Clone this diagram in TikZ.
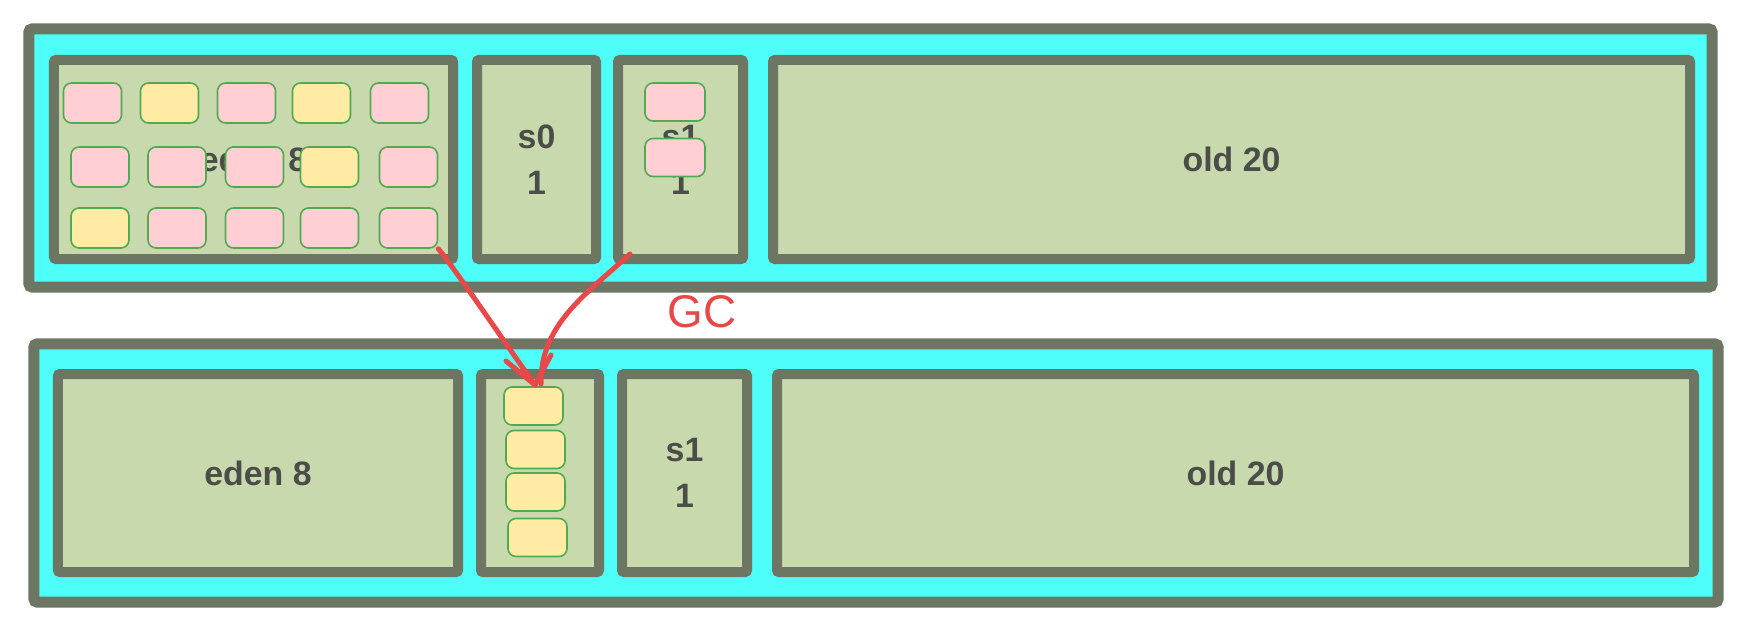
\documentclass[tikz,border=0pt]{standalone}
\usepackage{fontspec}
\setmainfont{Liberation Sans}
\definecolor{frame}{RGB}{108,118,98}
\definecolor{cyanbg}{RGB}{77,255,248}
\definecolor{olive}{RGB}{201,217,174}
\definecolor{pinkc}{RGB}{255,207,212}
\definecolor{yellowc}{RGB}{255,235,163}
\definecolor{greenb}{RGB}{80,170,80}
\definecolor{gcred}{RGB}{232,72,72}
\definecolor{txt}{RGB}{75,78,72}
\tikzset{
  outer/.style={draw=frame, fill=cyanbg, line width=11bp, rounded corners=3bp, inner sep=0pt},
  region/.style={draw=frame, fill=olive, line width=10bp, rounded corners=2bp, inner sep=0pt},
  obj/.style={draw=greenb, line width=1.6bp, rounded corners=8bp, minimum width=58bp, minimum height=40bp, inner sep=0pt},
  pinkobj/.style={obj, fill=pinkc},
  yelobj/.style={obj, fill=yellowc},
  lbl/.style={font=\bfseries\fontsize{34}{46}\selectfont, text=txt, align=center},
  gcline/.style={draw=gcred, line width=5bp, line cap=round, line join=round},
}
\begin{document}
\begin{tikzpicture}[x=1bp, y=-1bp]
\useasboundingbox (0,0) rectangle (1762,630);
\fill[white] (0,0) rectangle (1762,630);

% ---------- top heap ----------
\node[outer, minimum width=1683bp, minimum height=258bp] (heapT) at (870.5,158) {};
\node[region, minimum width=399bp, minimum height=199bp] (edenT) at (253.5,159.5) {};
\node[region, minimum width=119bp, minimum height=199bp] (s0T) at (536.5,159.5) {};
\node[region, minimum width=125bp, minimum height=199bp] (s1T) at (680.5,159.5) {};
\node[region, minimum width=917bp, minimum height=199bp] (oldT) at (1231.5,159.5) {};

\node[lbl] (edenTl) at (edenT.center) {eden 8};
\node[lbl] (s0Tl) at (s0T.center) {s0\\1};
\node[lbl] (s1Tl) at (s1T.center) {s1\\1};
\node[lbl] (oldTl) at (oldT.center) {old 20};

% objects in eden (top)
\node[pinkobj] (e11) at (92.5,103) {};
\node[yelobj]  (e12) at (169.5,103) {};
\node[pinkobj] (e13) at (246.5,103) {};
\node[yelobj]  (e14) at (321.5,103) {};
\node[pinkobj] (e15) at (399.5,103) {};
\node[pinkobj] (e21) at (100,167) {};
\node[pinkobj] (e22) at (177,167) {};
\node[pinkobj] (e23) at (254.5,167) {};
\node[yelobj]  (e24) at (329.5,167) {};
\node[pinkobj] (e25) at (408.5,167) {};
\node[yelobj]  (e31) at (100,228) {};
\node[pinkobj] (e32) at (177,228) {};
\node[pinkobj] (e33) at (254.5,228) {};
\node[pinkobj] (e34) at (329.5,228) {};
\node[pinkobj] (e35) at (408.5,228) {};

% objects in s1 (top)
\node[pinkobj, minimum width=60bp, minimum height=38bp] (p1) at (675,102) {};
\node[pinkobj, minimum width=60bp, minimum height=38bp] (p2) at (675,157.5) {};

% ---------- bottom heap ----------
\node[outer, minimum width=1684bp, minimum height=258bp] (heapB) at (876,473) {};
\node[region, minimum width=400bp, minimum height=198bp] (edenB) at (258,473) {};
\node[region, minimum width=118bp, minimum height=198bp] (s0B) at (540,473) {};
\node[region, minimum width=125bp, minimum height=198bp] (s1B) at (684.5,473) {};
\node[region, minimum width=917bp, minimum height=198bp] (oldB) at (1235.5,473) {};

\node[lbl] (edenBl) at (edenB.center) {eden 8};
\node[lbl] (s1Bl) at (s1B.center) {s1\\1};
\node[lbl] (oldBl) at (oldB.center) {old 20};

% survivors copied into s0 (bottom)
\node[yelobj, minimum width=59bp, minimum height=38bp] (y1) at (533.5,406) {};
\node[yelobj, minimum width=59bp, minimum height=38bp] (y2) at (535.5,449.5) {};
\node[yelobj, minimum width=59bp, minimum height=38bp] (y3) at (535.5,492) {};
\node[yelobj, minimum width=59bp, minimum height=38bp] (y4) at (537.5,537.5) {};

% ---------- GC arrows ----------
\coordinate (startR) at (630,254);
\coordinate (tip) at (535,385);
\coordinate (tipR) at (541,384);
\coordinate (barbL) at (506,361);
\coordinate (barbR) at (551,355);
\draw[gcline] (e35.south east) .. controls (450,262) and (510,350) .. (tip);
\draw[gcline] (startR) .. controls (585,295) and (540,325) .. (tipR);
\draw[gcline] (barbL) -- (tip) -- (barbR);

\node[text=gcred, font=\fontsize{46}{46}\selectfont] (gc) at (702,312) {GC};
\end{tikzpicture}
\end{document}
